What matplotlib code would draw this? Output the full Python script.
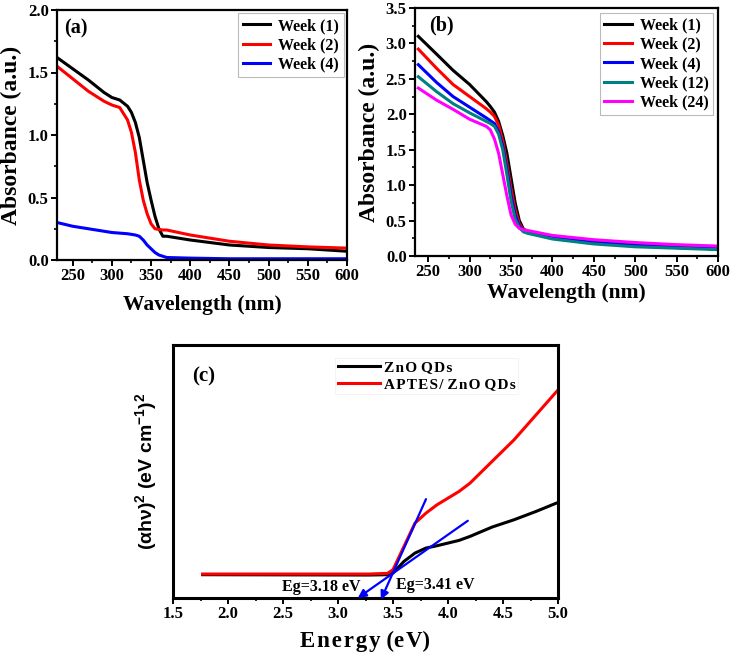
#!/usr/bin/env python3

import matplotlib
matplotlib.use("Agg")
import matplotlib.pyplot as plt
from matplotlib.ticker import MultipleLocator, AutoMinorLocator

# ---- panel (a) ----
wl_a = [230, 250, 270, 290, 300, 310, 320, 325, 330, 335, 340, 345, 350,
        355, 360, 365, 370, 400, 450, 500, 550, 600]
a_w1 = [1.62, 1.53, 1.44, 1.34, 1.30, 1.28, 1.23, 1.18, 1.10, 0.98, 0.80, 0.62,
        0.48, 0.35, 0.25, 0.19, 0.19, 0.16, 0.12, 0.10, 0.09, 0.07]
a_w2 = [1.55, 1.45, 1.35, 1.27, 1.24, 1.22, 1.12, 1.02, 0.86, 0.64, 0.48, 0.37,
        0.29, 0.25, 0.245, 0.24, 0.24, 0.20, 0.15, 0.12, 0.105, 0.095]
a_w4 = [0.30, 0.27, 0.25, 0.23, 0.22, 0.215, 0.21, 0.205, 0.20, 0.19, 0.16, 0.12,
        0.09, 0.06, 0.04, 0.03, 0.02, 0.015, 0.01, 0.01, 0.01, 0.01]
labels_a = ["Week (1)", "Week (2)", "Week (4)"]
colors_a = ["black", "red", "blue"]

# ---- panel (b) ----
wl_b = [238, 260, 280, 300, 320, 325, 330, 335, 340, 345, 350, 355, 360, 365,
        370, 400, 450, 500, 550, 600]
b_w1 = [3.10, 2.85, 2.62, 2.42, 2.18, 2.11, 2.03, 1.90, 1.70, 1.45, 1.10, 0.75,
        0.50, 0.38, 0.35, 0.27, 0.20, 0.15, 0.12, 0.10]
b_w2 = [2.92, 2.65, 2.42, 2.25, 2.08, 2.03, 1.97, 1.85, 1.62, 1.30, 0.95, 0.65,
        0.45, 0.37, 0.34, 0.27, 0.20, 0.16, 0.13, 0.11]
b_w4 = [2.70, 2.45, 2.25, 2.10, 1.95, 1.91, 1.87, 1.75, 1.55, 1.22, 0.85, 0.58,
        0.42, 0.36, 0.34, 0.26, 0.19, 0.15, 0.12, 0.10]
b_w12 = [2.53, 2.32, 2.15, 2.02, 1.90, 1.87, 1.83, 1.72, 1.50, 1.15, 0.78, 0.52,
         0.40, 0.34, 0.32, 0.24, 0.17, 0.13, 0.11, 0.09]
b_w24 = [2.37, 2.20, 2.07, 1.93, 1.83, 1.78, 1.65, 1.45, 1.15, 0.85, 0.58, 0.45,
         0.39, 0.37, 0.36, 0.29, 0.23, 0.19, 0.16, 0.14]
labels_b = ["Week (1)", "Week (2)", "Week (4)", "Week (12)", "Week (24)"]
colors_b = ["black", "red", "blue", "#008080", "#ff00ff"]

# ---- panel (c) ----
en_c = [1.77, 3.28, 3.45, 3.5, 3.6, 3.7, 3.8, 3.9, 4.0, 4.1, 4.2, 4.4, 4.6,
        4.8, 5.0]
c_zno = [0.70, 0.69, 0.70, 0.75, 1.10, 1.35, 1.50, 1.57, 1.65, 1.73, 1.85,
         2.13, 2.35, 2.60, 2.87]
c_aptes = [0.72, 0.72, 0.74, 0.85, 1.55, 2.25, 2.55, 2.80, 3.00, 3.20, 3.45,
           4.10, 4.75, 5.50, 6.25]
hs = "\u200a"
labels_c = [hs.join("ZnO") + " " + hs.join("QDs"),
            hs.join("APTES/") + " " + hs.join("ZnO") + " " + hs.join("QDs")]
# tangent lines: (start x, start y) -> arrow tip (x, y)
tan1 = [(3.80, 2.97), (3.39, -0.05)]
tan2 = [(4.18, 2.32), (3.18, 0.0)]

serif = "Liberation Serif"
plt.rcParams["font.family"] = [serif, "DejaVu Serif"]
plt.rcParams["font.weight"] = "bold"
plt.rcParams["mathtext.fontset"] = "custom"
plt.rcParams["mathtext.rm"] = "Liberation Sans:bold"
plt.rcParams["mathtext.it"] = "Liberation Sans:bold"
plt.rcParams["mathtext.bf"] = "Liberation Sans:bold"

W, H = 732, 653
fig = plt.figure(figsize=(W / 100, H / 100), dpi=100)


def box(l, r, t, b):
    return [l / W, 1 - b / H, (r - l) / W, (b - t) / H]


def style(ax, lw=1.6, fs=12):
    for s in ax.spines.values():
        s.set_linewidth(lw)
    ax.tick_params(which="major", direction="out", length=4, width=1.4,
                   labelsize=fs, pad=2)
    ax.tick_params(which="minor", direction="out", length=2.5, width=1.2)
    for t in ax.get_xticklabels() + ax.get_yticklabels():
        t.set_fontweight("bold")


def legend(ax, **kw):
    leg = ax.legend(fontsize=11.5, frameon=True, fancybox=False,
                    handlelength=1.7, handletextpad=0.5, labelspacing=0.2,
                    borderpad=0.3, **kw)
    leg.get_frame().set_edgecolor("#aaaaaa")
    leg.get_frame().set_linewidth(0.8)
    return leg


# (a)
ax1 = fig.add_axes(box(57, 347, 10, 260))
for ys, lab, c in zip([a_w1, a_w2, a_w4], labels_a, colors_a):
    ax1.plot(wl_a, ys, color=c, lw=2.2, label=lab)
ax1.set_xlim(230, 600)
ax1.set_ylim(0, 2.0)
ax1.set_xticks([250, 300, 350, 400, 450, 500, 550, 600])
ax1.xaxis.set_minor_locator(AutoMinorLocator(2))
ax1.yaxis.set_major_locator(MultipleLocator(0.5))
ax1.yaxis.set_minor_locator(AutoMinorLocator(2))
style(ax1)
ax1.set_xlabel("Wavelength (nm)", fontsize=15.5, fontweight="bold", labelpad=8)
ax1.set_ylabel("Absorbance (a.u.)", fontsize=17, fontweight="bold", labelpad=4)
ax1.text(0.025, 0.928, "(a)", transform=ax1.transAxes, fontsize=14.5,
         fontweight="bold", va="center")
legend(ax1, loc="upper right", borderaxespad=0.2)

# (b)
ax2 = fig.add_axes(box(415, 718, 8, 256))
for ys, lab, c in zip([b_w1, b_w2, b_w4, b_w12, b_w24], labels_b, colors_b):
    ax2.plot(wl_b, ys, color=c, lw=2.2, label=lab)
ax2.set_xlim(234, 600)
ax2.set_ylim(0, 3.5)
ax2.set_xticks([250, 300, 350, 400, 450, 500, 550, 600])
ax2.xaxis.set_minor_locator(AutoMinorLocator(2))
ax2.yaxis.set_major_locator(MultipleLocator(0.5))
ax2.yaxis.set_minor_locator(AutoMinorLocator(2))
style(ax2)
ax2.set_xlabel("Wavelength (nm)", fontsize=15.5, fontweight="bold", labelpad=2)
ax2.set_ylabel("Absorbance (a.u.)", fontsize=17, fontweight="bold", labelpad=4)
ax2.text(0.045, 0.928, "(b)", transform=ax2.transAxes, fontsize=14.5,
         fontweight="bold", va="center")
legend(ax2, loc="upper right", borderaxespad=0.3)

# (c)
ax3 = fig.add_axes(box(173, 558, 345, 598))
ax3.plot(en_c, c_zno, color="black", lw=2.2, label=labels_c[0])
ax3.plot(en_c, c_aptes, color="red", lw=2.2, label=labels_c[1])
for (x0, y0), (x1, y1) in [tan1, tan2]:
    ax3.annotate("", xy=(x1, y1), xytext=(x0, y0),
                 arrowprops=dict(arrowstyle="-|>", color="blue", lw=1.6,
                                 mutation_scale=12, shrinkA=0, shrinkB=0),
                 annotation_clip=False)
ax3.text(2.85, 0.32, "Eg=3.18 eV", fontsize=11.5, fontweight="bold",
         ha="center", va="center")
ax3.text(3.88, 0.38, "Eg=3.41 eV", fontsize=11.5, fontweight="bold",
         ha="center", va="center")
ax3.set_xlim(1.5, 5.0)
ax3.set_ylim(0, 7.6)
ax3.xaxis.set_major_locator(MultipleLocator(0.5))
ax3.xaxis.set_minor_locator(AutoMinorLocator(2))
ax3.set_yticks([])
style(ax3, lw=2.2, fs=12)
ax3.xaxis.set_major_formatter(plt.FormatStrFormatter("%.1f"))
ax3.set_xlabel(hs.join("Energy") + " (" + hs.join("eV") + ")", fontsize=16.5,
               fontweight="bold", labelpad=6)
ax3.set_ylabel(r"$(\alpha h\nu)^2$ (eV cm$^{-1}$)$^2$",
               family=["Liberation Sans", "DejaVu Sans"], fontsize=14,
               fontweight="bold", labelpad=10)
ax3.text(0.05, 0.875, "(c)", transform=ax3.transAxes, fontsize=15,
         fontweight="bold", va="center")
leg = ax3.legend(loc="upper left", bbox_to_anchor=(0.4, 0.98), fontsize=11,
                 frameon=True, fancybox=False, handlelength=2.8,
                 handletextpad=0.2, labelspacing=0.2, borderpad=0.2)
leg.get_frame().set_edgecolor("#eeeeee")
leg.get_frame().set_linewidth(0.6)

fig.savefig("out.png", dpi=100)
